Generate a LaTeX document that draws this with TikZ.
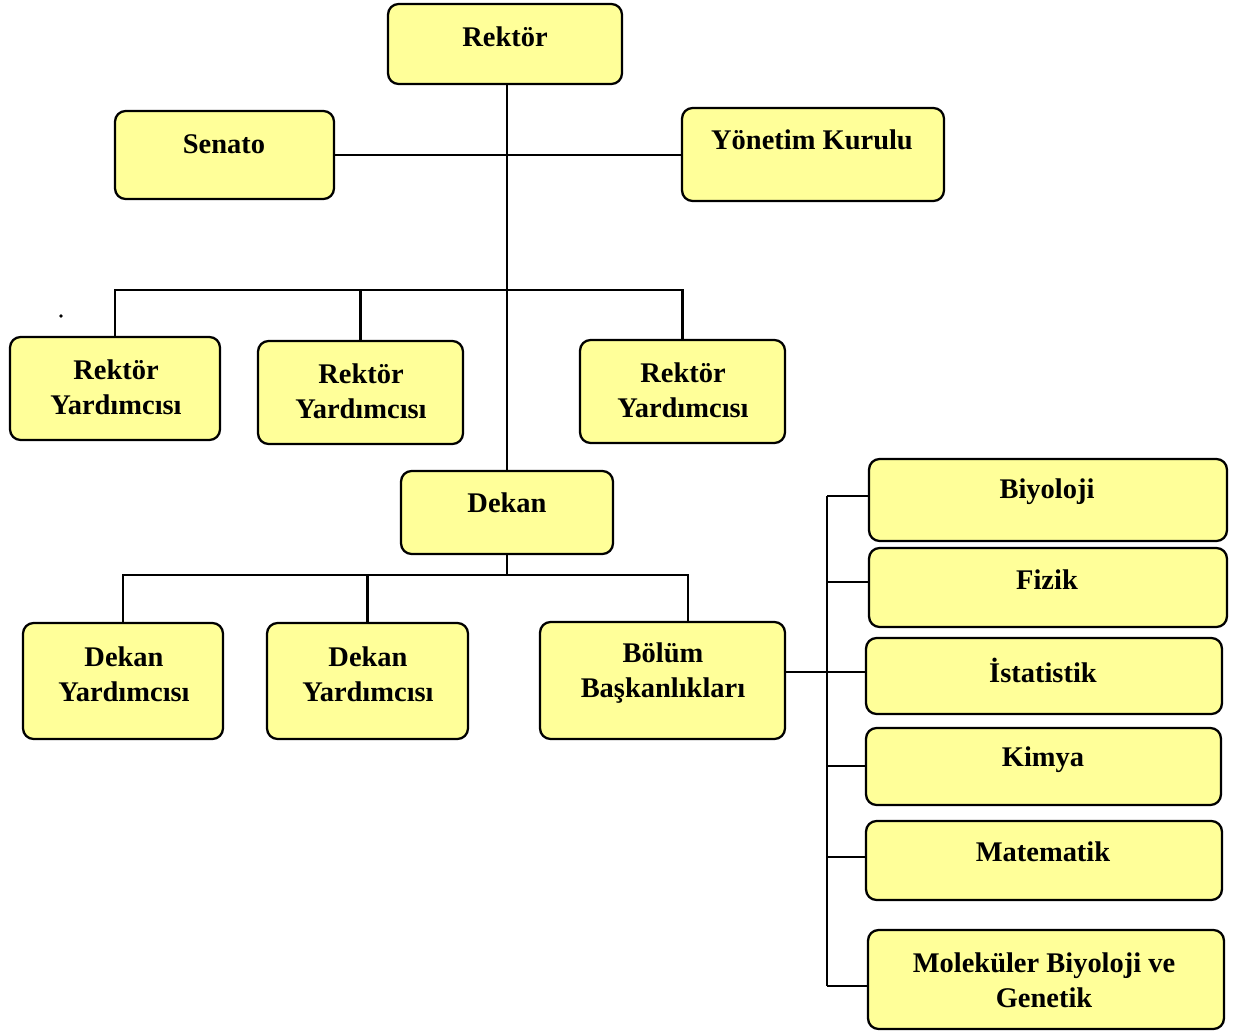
\documentclass[tikz,border=0pt]{standalone}
\usepackage{fontspec}
\setmainfont{Liberation Serif}
\definecolor{boxYellow}{RGB}{255, 255, 153}

\tikzset{
  orgbox/.style={draw, line width=1.3pt, rounded corners=6pt, fill=boxYellow, inner sep=0pt},
  orgtext/.style={font=\fontsize{16.2}{19.9}\selectfont\bfseries, align=center, inner sep=0pt},
  link/.style={line width=1.3pt}
}

\begin{document}
\begin{tikzpicture}[x=0.02cm, y=-0.02cm]
        \useasboundingbox (0,0) rectangle (1235,1034);
        % top level
        \node[orgbox, minimum width=4.68cm, minimum height=1.6cm] (rektor) at (505,44) {};
        \node[orgbox, minimum width=4.38cm, minimum height=1.76cm] (senato) at (224.5,155) {};
        \node[orgbox, minimum width=5.24cm, minimum height=1.86cm] (yonetim) at (813,154.5) {};
        \node[orgtext] (rektorT) at (505,37) {Rektör};
        \node[orgtext] (senatoT) at (224,144) {Senato};
        \node[orgtext] (yonetimT) at (812,140) {Yönetim Kurulu};
        % rektor yardimcilari
        \node[orgbox, minimum width=4.2cm, minimum height=2.06cm] (ry1) at (115,388.5) {};
        \node[orgbox, minimum width=4.1cm, minimum height=2.06cm] (ry2) at (360.5,392.5) {};
        \node[orgbox, minimum width=4.1cm, minimum height=2.06cm] (ry3) at (682.5,391.5) {};
        \node[orgtext] (ry1T) at (116,387) {Rektör\\Yardımcısı};
        \node[orgtext] (ry2T) at (361,391) {Rektör\\Yardımcısı};
        \node[orgtext] (ry3T) at (683,390) {Rektör\\Yardımcısı};
        % dekan level
        \node[orgbox, minimum width=4.24cm, minimum height=1.66cm] (dekan) at (507,512.5) {};
        \node[orgtext] (dekanT) at (507,503) {Dekan};
        \node[orgbox, minimum width=4.0cm, minimum height=2.32cm] (dy1) at (123,681) {};
        \node[orgbox, minimum width=4.02cm, minimum height=2.32cm] (dy2) at (367.5,681) {};
        \node[orgbox, minimum width=4.9cm, minimum height=2.34cm] (bolum) at (662.5,680.5) {};
        \node[orgtext] (dy1T) at (124,674) {Dekan\\Yardımcısı};
        \node[orgtext] (dy2T) at (368,674) {Dekan\\Yardımcısı};
        \node[orgtext] (bolumT) at (663,673) {Bölüm\\Başkanlıkları};
        % bolumler
        \node[orgbox, minimum width=7.16cm, minimum height=1.64cm] (biyo) at (1048,500) {};
        \node[orgbox, minimum width=7.16cm, minimum height=1.58cm] (fizik) at (1048,587.5) {};
        \node[orgbox, minimum width=7.12cm, minimum height=1.52cm] (ist) at (1044,676) {};
        \node[orgbox, minimum width=7.1cm, minimum height=1.54cm] (kimya) at (1043.5,766.5) {};
        \node[orgbox, minimum width=7.12cm, minimum height=1.58cm] (mat) at (1044,860.5) {};
        \node[orgbox, minimum width=7.12cm, minimum height=1.98cm] (mol) at (1046,979.5) {};
        \node[orgtext] (biyoT) at (1047,492) {Biyoloji};
        \node[orgtext] (fizikT) at (1047,580) {Fizik};
        \node[orgtext] (istT) at (1043,670) {İstatistik};
        \node[orgtext] (kimyaT) at (1043,760) {Kimya};
        \node[orgtext] (matT) at (1043,852) {Matematik};
        \node[orgtext] (molT) at (1044,980) {Moleküler Biyoloji ve\\Genetik};

        % connectors
        \coordinate (rbus) at (507,290);
        \coordinate (dbus) at (507,575);
        \coordinate (bdrop) at (688,575);
        \coordinate (sbar) at (827,0);
        \draw[link] (rektor.south -| dekan.north) -- (dekan.north);
        \draw[link] (senato.east) -- (senato.east -| yonetim.west);
        \draw[link] (ry1.north) |- (rbus) -| (ry3.north);
        \draw[link] (ry2.north) -- (ry2.north |- rbus);
        \draw[link] (dekan.south) -- (dbus);
        \draw[link] (dy1.north) |- (bdrop) -- (bdrop |- bolum.north);
        \draw[link] (dy2.north) -- (dy2.north |- dbus);
        \draw[link] ([yshift=0.08cm]bolum.east |- ist.west) -- ([yshift=0.08cm]ist.west);
        \draw[link] ([yshift=0.08cm]sbar |- biyo.west) -- ([yshift=-0.13cm]sbar |- mol.west);
        % branches, shifted to where the reference meets each box
        \foreach \b/\dy in {biyo/0.08, fizik/0.11, kimya/0.01, mat/0.07, mol/-0.13}
          \draw[link] ([yshift=\dy cm]sbar |- \b.west) -- ([yshift=\dy cm]\b.west);
        \fill (61,316) circle (1pt);
      \end{tikzpicture}
\end{document}
